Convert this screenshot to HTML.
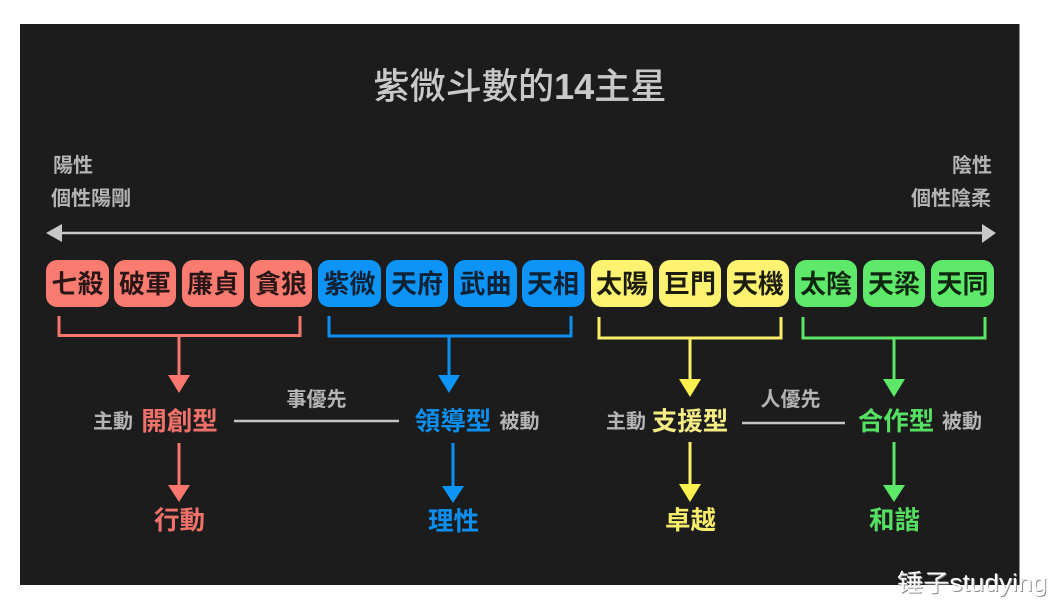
<!DOCTYPE html>
<html>
<head>
<meta charset="utf-8">
<style>
html,body{margin:0;padding:0;background:#fff;width:1058px;height:610px;overflow:hidden}
svg{display:block}
text{font-family:"Liberation Sans","Noto Sans CJK TC",sans-serif;dominant-baseline:central;text-anchor:middle}
.pill{font-size:26px;font-weight:700}
.gr{font-size:20px;fill:#b4b4b4;font-weight:700}
.tag{font-size:25.5px;font-weight:700}
</style>
</head>
<body>
<svg width="1058" height="610" viewBox="0 0 1058 610" xmlns="http://www.w3.org/2000/svg">
<defs><filter id="b" x="-2%" y="-2%" width="104%" height="104%"><feGaussianBlur stdDeviation="0.35"/></filter></defs>
<rect width="1058" height="610" fill="#ffffff"/>
<rect x="20" y="24" width="999.5" height="561" fill="#1c1c1c"/>

<g filter="url(#b)">
<text x="520" y="86" font-size="36" font-weight="500" fill="#c9c9c9" textLength="293" lengthAdjust="spacingAndGlyphs">紫微斗數的<tspan font-weight="700">14</tspan>主星</text>

<text class="gr" x="73" y="166">陽性</text>
<text class="gr" x="91" y="199">個性陽剛</text>
<text class="gr" x="972" y="166">陰性</text>
<text class="gr" x="951" y="199">個性陰柔</text>

<g stroke="#c8c8c8" fill="#c8c8c8">
<line x1="58" y1="233" x2="986" y2="233" stroke-width="2.5"/>
<polygon points="46,233 62,224 62,242" stroke="none"/>
<polygon points="996,233 982,224 982,243" stroke="none"/>
</g>

<g fill="#fa7c71">
<rect x="46" y="260" width="63" height="47" rx="11"/>
<rect x="114" y="260" width="62" height="47" rx="11"/>
<rect x="182" y="260" width="62" height="47" rx="11"/>
<rect x="250" y="260" width="62" height="47" rx="11"/>
</g>
<g fill="#0a94f6">
<rect x="318" y="260" width="63" height="47" rx="11"/>
<rect x="386" y="260" width="62" height="47" rx="11"/>
<rect x="454" y="260" width="63" height="47" rx="11"/>
<rect x="522" y="260" width="62.5" height="47" rx="11"/>
</g>
<g fill="#fdf36f">
<rect x="591" y="260" width="62" height="47" rx="11"/>
<rect x="659" y="260" width="62" height="47" rx="11"/>
<rect x="727" y="260" width="62" height="47" rx="11"/>
</g>
<g fill="#5fe96b">
<rect x="795" y="260" width="62" height="47" rx="11"/>
<rect x="863" y="260" width="62" height="47" rx="11"/>
<rect x="931" y="260" width="63" height="47" rx="11"/>
</g>

<g fill="#2a1513">
<text class="pill" x="77.5" y="284">七殺</text>
<text class="pill" x="145" y="284">破軍</text>
<text class="pill" x="213" y="284">廉貞</text>
<text class="pill" x="281" y="284">貪狼</text>
</g>
<g fill="#0d2236">
<text class="pill" x="349.5" y="284">紫微</text>
<text class="pill" x="417" y="284">天府</text>
<text class="pill" x="485.5" y="284">武曲</text>
<text class="pill" x="553" y="284">天相</text>
</g>
<g fill="#1f1d0c">
<text class="pill" x="622" y="284">太陽</text>
<text class="pill" x="690" y="284">巨門</text>
<text class="pill" x="758" y="284">天機</text>
</g>
<g fill="#0e2611">
<text class="pill" x="826" y="284">太陰</text>
<text class="pill" x="894" y="284">天梁</text>
<text class="pill" x="962.5" y="284">天同</text>
</g>

<!-- Red -->
<g stroke="#f5766c" fill="none" stroke-width="3">
<path d="M59 316V335.5H300V316"/>
<path d="M179 336V378"/>
<path d="M179 443V487"/>
</g>
<g fill="#f9776d">
<polygon points="168,375 190,375 179,393"/>
<polygon points="168,485 190,485 179,502"/>
</g>
<!-- Blue -->
<g stroke="#0a8ff0" fill="none" stroke-width="3">
<path d="M329 316V336H571V316"/>
<path d="M449 336V378"/>
<path d="M453 443V488"/>
</g>
<g fill="#0a94f6">
<polygon points="438,375 460,375 449,393"/>
<polygon points="442,486 464,486 453,503"/>
</g>
<!-- Yellow -->
<g stroke="#fbef6a" fill="none" stroke-width="3">
<path d="M599 317V338H781V317"/>
<path d="M690 338V381"/>
<path d="M690 442V485"/>
</g>
<g fill="#fdf04f">
<polygon points="679,379 701,379 690,397"/>
<polygon points="679,484 701,484 690,502"/>
</g>
<!-- Green -->
<g stroke="#5be667" fill="none" stroke-width="3">
<path d="M803 317V338H985V317"/>
<path d="M894 338V381"/>
<path d="M894 442V486"/>
</g>
<g fill="#5ce968">
<polygon points="883,379 905,379 894,397"/>
<polygon points="883,485 905,485 894,502"/>
</g>

<line x1="234" y1="421" x2="399" y2="421" stroke="#c4c4c4" stroke-width="2.5"/>
<line x1="742" y1="423" x2="845" y2="423" stroke="#c4c4c4" stroke-width="2.5"/>

<text class="gr" x="113" y="422">主動</text>
<text class="tag" x="179.5" y="422" fill="#f0716a">開創型</text>
<text class="gr" x="316.5" y="400">事優先</text>
<text class="tag" x="453" y="422" fill="#0a8ff0">領導型</text>
<text class="gr" x="519.5" y="422">被動</text>

<text class="gr" x="626" y="422">主動</text>
<text class="tag" x="690" y="422" fill="#f6ec84">支援型</text>
<text class="gr" x="790.5" y="400">人優先</text>
<text class="tag" x="896" y="422" fill="#55e063">合作型</text>
<text class="gr" x="962" y="422">被動</text>

<text class="tag" x="179.5" y="521" fill="#f0716a">行動</text>
<text class="tag" x="453.5" y="522" fill="#0a8ff0">理性</text>
<text class="tag" x="690.5" y="521" fill="#f6ec6a">卓越</text>
<text class="tag" x="894.5" y="521" fill="#55e063">和諧</text>
</g>

<text x="972" y="583.5" font-size="24" fill="#8f8f8f" textLength="150" lengthAdjust="spacingAndGlyphs" transform="translate(1 1)">锤子studying</text>
<text x="972" y="583.5" font-size="24" fill="#ffffff" textLength="150" lengthAdjust="spacingAndGlyphs">锤子studying</text>
</svg>
</body>
</html>
